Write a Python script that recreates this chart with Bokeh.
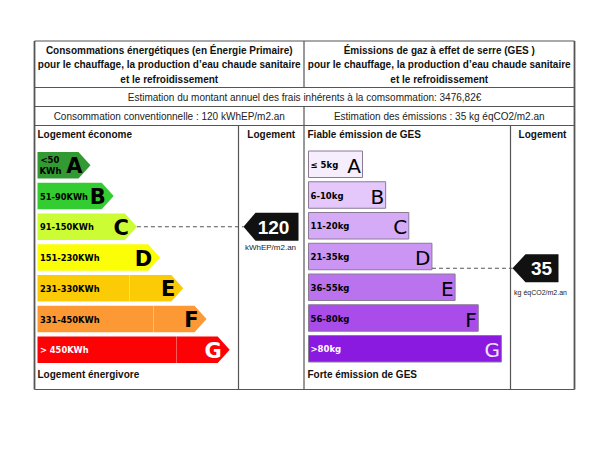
from bokeh.plotting import figure
from bokeh.models import Range1d
from bokeh.core.properties import value
from bokeh.embed import file_html
from bokeh.resources import INLINE

# ---------------- data ----------------
energy_classes = ["A", "B", "C", "D", "E", "F", "G"]
energy_ranges = ["<50\nKWh", "51-90KWh", "91-150KWh", "151-230KWh", "231-330KWh", "331-450KWh", "> 450KWh"]
energy_colors = ["#339a33", "#33cc31", "#cbfc34", "#fbfe06", "#fbcc05", "#fc9935", "#fc0205"]
energy_text_colors = ["black", "black", "black", "black", "black", "black", "white"]

ges_classes = ["A", "B", "C", "D", "E", "F", "G"]
ges_ranges = ["\u2264 5kg", "6-10kg", "11-20kg", "21-35kg", "36-55kg", "56-80kg", ">80kg"]
ges_colors = ["#f6edfd", "#e4c7fb", "#d5aaf6", "#cb95f3", "#ba72ef", "#a94cea", "#8b1ae1"]
ges_text_colors = ["black", "black", "black", "black", "black", "black", "white"]

energy_value = 120
energy_class = "C"
energy_unit = "kWhEP/m2.an"
ges_value = 35
ges_class = "D"
ges_unit = "kg \u00e9qCO2/m2.an"

header_left = ["Consommations \u00e9nerg\u00e9tiques (en \u00c9nergie Primaire)",
               "pour le chauffage, la production d\u2019eau chaude sanitaire",
               "et le refroidissement"]
header_right = ["\u00c9missions de gaz \u00e0 effet de serre (GES )",
                "pour le chauffage, la production d\u2019eau chaude sanitaire",
                "et le refroidissement"]
cost_text = "Estimation du montant annuel des frais inh\u00e9rents \u00e0 la comsommation: 3476,82\u20ac"
conso_text = "Consommation conventionnelle : 120 kWhEP/m2.an"
emis_text = "Estimation des \u00e9missions : 35 kg \u00e9qCO2/m2.an"

# ---------------- layout ----------------
W, H = 579, 444
p = figure(width=W, height=H, output_backend="svg", toolbar_location=None,
           x_range=Range1d(0, W), y_range=Range1d(H, 0),
           min_border=0, outline_line_color=None, background_fill_color="white")
p.axis.visible = False
p.grid.visible = False

ARIAL = value("Liberation Sans")
DEJA = value("DejaVu Sans")

L, M, R, T, B = 34, 303.5, 574, 40.5, 389
yh, yc, yv = 87, 106, 125
cl, cr = 238, 510
line_col = "#555555"

# table lines
p.segment(x0=[L, L, L, L, M, M, cl, cr, L], y0=[T, yh, yc, yv, T, yc, yv, yv, B],
          x1=[R, R, R, R, M, M, cl, cr, R], y1=[T, yh, yc, yv, yh, B, B, B, B],
          line_color=line_col, line_width=1.2)
p.segment(x0=[L, R], y0=[T, T], x1=[L, R], y1=[B, B], line_color=line_col, line_width=1.8)

# header texts
hx_l = (L + M) / 2
hx_r = (M + R) / 2
hy = [49.5, 64, 78.5]
p.text(x=[hx_l] * 3, y=hy, text=header_left, text_font=ARIAL, text_font_style="bold",
       text_font_size="10px", text_align="center", text_baseline="middle", text_color="#111111")
p.text(x=[hx_r] * 3, y=hy, text=header_right, text_font=ARIAL, text_font_style="bold",
       text_font_size="10px", text_align="center", text_baseline="middle", text_color="#111111")
p.text(x=[(L + R) / 2], y=[97], text=[cost_text], text_font=ARIAL, text_font_size="10px",
       text_align="center", text_baseline="middle", text_color="#222222")
p.text(x=[hx_l, hx_r], y=[115.5, 115.5], text=[conso_text, emis_text], text_font=ARIAL,
       text_font_size="10px", text_align="center", text_baseline="middle", text_color="#222222")

# section labels
p.text(x=[37, 307], y=[133.5, 133.5], text=["Logement \u00e9conome", "Fiable \u00e9mission de GES"],
       text_font=ARIAL, text_font_style="bold", text_font_size="10px", text_baseline="middle",
       text_color="#111111")
p.text(x=[(cl + M) / 2, (cr + R) / 2], y=[133.5, 133.5], text=["Logement", "Logement"],
       text_font=ARIAL, text_font_style="bold", text_font_size="10px", text_align="center",
       text_baseline="middle", text_color="#111111")
p.text(x=[37, 307], y=[373.5, 373.5], text=["Logement \u00e9nergivore", "Forte \u00e9mission de GES"],
       text_font=ARIAL, text_font_style="bold", text_font_size="10px", text_baseline="middle",
       text_color="#111111")

# ---------------- energy arrows ----------------
row_top0, pitch, bh = 151.5, 30.75, 26.5
ex0, tip0, tip_step, head = 37, 90, 23.2, 12
xs, ys = [], []
tops, centers, tips = [], [], []
for i, c in enumerate(energy_classes):
    top = row_top0 + i * pitch
    bot = top + bh
    cen = (top + bot) / 2
    tip = tip0 + i * tip_step
    xs.append([ex0, tip - head, tip, tip - head, ex0])
    ys.append([top, top, cen, bot, bot])
    tops.append(top); centers.append(cen); tips.append(tip)
p.patches(xs=xs, ys=ys, fill_color=energy_colors, line_color=None)

# faint seams seen in the lower bars
seam_x = [129, 153, 176]
p.segment(x0=seam_x, y0=[tops[i] for i in (4, 5, 6)], x1=seam_x,
          y1=[tops[i] + bh for i in (4, 5, 6)], line_color="white", line_alpha=0.35, line_width=1)

# range labels
for i, r in enumerate(energy_ranges):
    if "\n" in r:
        a, b = r.split("\n")
        p.text(x=[40, 39], y=[centers[i] - 5.5, centers[i] + 5.5], text=[a, b], text_font=DEJA,
               text_font_style="bold", text_font_size="8.5px", text_baseline="middle",
               text_color=energy_text_colors[i])
    else:
        p.text(x=[39.5], y=[centers[i] + 0.5], text=[r], text_font=DEJA, text_font_style="bold",
               text_font_size="8.3px", text_baseline="middle", text_color=energy_text_colors[i])
p.text(x=[t - 8 for t in tips], y=[c + 1 for c in centers], text=energy_classes, text_font=DEJA,
       text_font_style="bold", text_font_size="21px", text_align="right", text_baseline="middle",
       text_color=energy_text_colors)

# ---------------- GES bars ----------------
gx0, gx1_0, gstep = 308, 362, 23.15
g_lefts, g_rights, g_tops, g_bots = [], [], [], []
for i, c in enumerate(ges_classes):
    top = row_top0 - 1 + i * pitch
    g_lefts.append(gx0); g_rights.append(gx1_0 + i * gstep)
    g_tops.append(top); g_bots.append(top + bh)
p.quad(left=g_lefts, right=g_rights, top=g_tops, bottom=g_bots, fill_color=ges_colors,
       line_color="#8a7a96", line_width=1)
g_cent = [(a + b) / 2 for a, b in zip(g_tops, g_bots)]
p.text(x=[310] * 7, y=[c + 0.5 for c in g_cent], text=ges_ranges, text_font=DEJA,
       text_font_style="bold", text_font_size="8.5px", text_baseline="middle", text_color=ges_text_colors)
p.text(x=[r - 1.5 for r in g_rights], y=[c + 1.5 for c in g_cent], text=ges_classes, text_font=DEJA,
       text_font_size="20px", text_align="right", text_baseline="middle",
       text_color=["black"] * 6 + ["#f0e6f8"])

# ---------------- markers ----------------
ei = energy_classes.index(energy_class)
ey = centers[ei]
mt, mb_, mr = 243, 255, 298
p.segment(x0=[tips[ei]], y0=[ey], x1=[mt], y1=[ey], line_color="#555555", line_dash="4 3", line_width=1.2)
p.patch(x=[mt, mb_, mr, mr, mb_], y=[ey, ey - 14, ey - 14, ey + 14, ey + 14], fill_color="#111111",
        line_color=None)
p.text(x=[273], y=[ey + 1], text=[str(energy_value)], text_font=ARIAL, text_font_style="bold",
       text_font_size="19px", text_align="center", text_baseline="middle", text_color="white")
p.text(x=[270], y=[ey + 20.5], text=[energy_unit], text_font=ARIAL, text_font_size="8px",
       text_align="center", text_baseline="middle", text_color="#222222")

gi = ges_classes.index(ges_class)
gy = g_bots[gi] - 1.5
gt, gb_, gr = 512, 525, 558
p.segment(x0=[g_rights[gi]], y0=[gy], x1=[gt], y1=[gy], line_color="#555555", line_dash="4 3", line_width=1.2)
p.patch(x=[gt, gb_, gr, gr, gb_], y=[gy, gy - 14, gy - 14, gy + 14, gy + 14], fill_color="#111111",
        line_color=None)
p.text(x=[541], y=[gy + 0.5], text=[str(ges_value)], text_font=ARIAL, text_font_style="bold",
       text_font_size="19px", text_align="center", text_baseline="middle", text_color="white")
p.text(x=[540], y=[gy + 24], text=[ges_unit], text_font=ARIAL, text_font_size="7px",
       text_align="center", text_baseline="middle", text_color="#222222")

open("out.html", "w").write(file_html(p, INLINE))
